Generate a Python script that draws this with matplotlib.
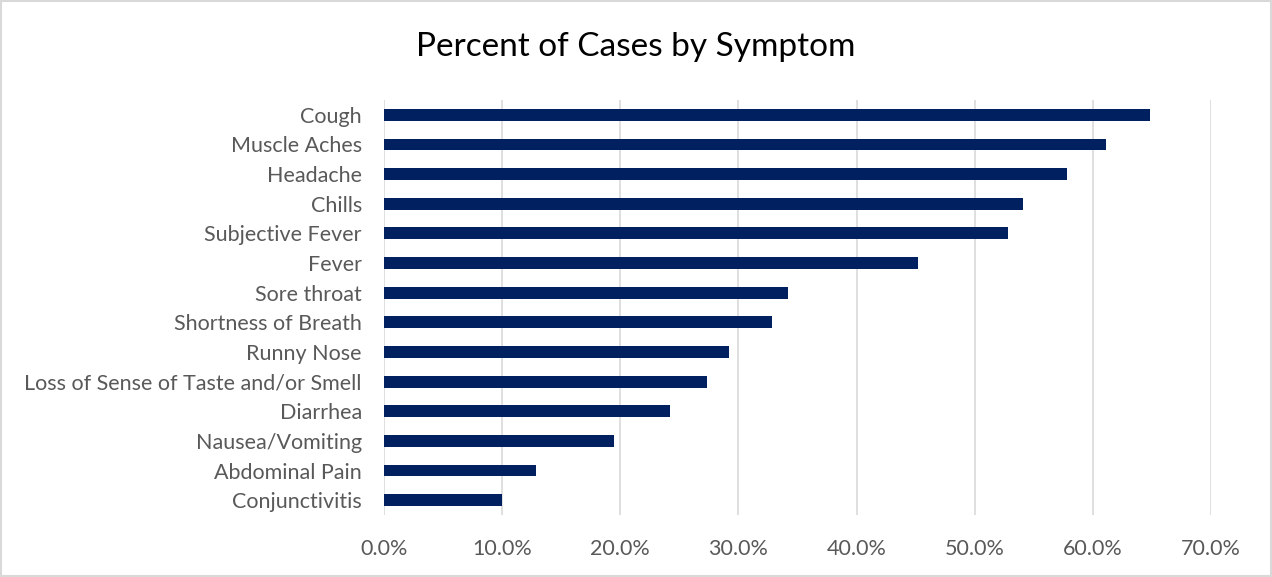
import matplotlib
matplotlib.use("Agg")
import matplotlib.pyplot as plt
from matplotlib.ticker import FuncFormatter, MultipleLocator
from matplotlib.patches import Rectangle

symptoms = ["Cough", "Muscle Aches", "Headache", "Chills", "Subjective Fever",
            "Fever", "Sore throat", "Shortness of Breath", "Runny Nose",
            "Loss of Sense of Taste and/or Smell", "Diarrhea",
            "Nausea/Vomiting", "Abdominal Pain", "Conjunctivitis"]
percent = [64.8, 61.1, 57.8, 54.1, 52.8, 45.2, 34.2, 32.8, 29.2, 27.3,
           24.2, 19.5, 12.9, 10.0]

plt.rcParams['font.family'] = ['Lato', 'DejaVu Sans']

fig = plt.figure(figsize=(12.72, 5.77), dpi=100)
ax = fig.add_axes([384 / 1272, 1 - 515 / 577, (1211 - 384) / 1272, 415 / 577])

y = list(range(len(symptoms)))[::-1]
ax.barh(y, percent, height=0.4, color="#002060", zorder=3)

ax.set_xlim(0, 70)
ax.set_ylim(-0.5, len(symptoms) - 0.5)
ax.xaxis.set_major_locator(MultipleLocator(10))
ax.xaxis.set_major_formatter(FuncFormatter(lambda v, p: f"{v:.1f}%"))
ax.set_yticks(y)
ax.set_yticklabels(symptoms)

ax.grid(axis="x", color="#D9D9D9", linewidth=1.2, zorder=0)
for s in ax.spines.values():
    s.set_visible(False)
ax.tick_params(axis="both", length=0, labelsize=15.5, colors="#595959")
ax.tick_params(axis="x", pad=17)
ax.tick_params(axis="y", pad=16)

fig.text(0.5, 1 - 47 / 577, "Percent of Cases by Symptom", ha="center",
         va="center", fontsize=24, color="#000000")

fig.patches.append(Rectangle((0.001, 0.002), 0.998, 0.996, transform=fig.transFigure,
                             fill=False, edgecolor="#D9D9D9", linewidth=1.5))

fig.savefig("out.png", dpi=100)
